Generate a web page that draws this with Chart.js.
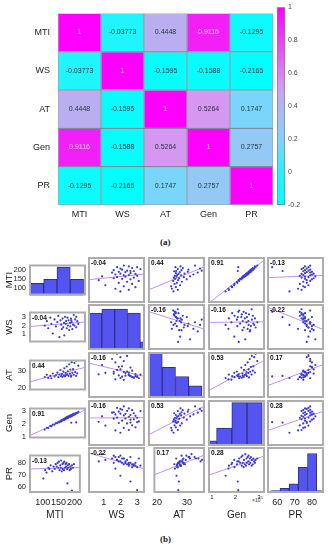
<!DOCTYPE html>
<html>
<head>
<meta charset="utf-8">
<script src="https://cdn.jsdelivr.net/npm/chart.js@4.4.0/dist/chart.umd.min.js"></script>
<style>
  body { margin: 0; background: #fff; width: 332px; height: 550px; position: relative; overflow: hidden; }
  canvas { position: absolute; }
  .cap { position: absolute; font-family: "Liberation Serif", "Times New Roman", serif; font-size: 9px; font-weight: bold; color: #222; }
  .exp { position: absolute; font-family: "Liberation Sans", Arial, sans-serif; font-size: 5px; color: #333; }
</style>
</head>
<body>
<div class="cap" style="left:160px;top:237px">(a)</div>
<div class="cap" style="left:160px;top:534px">(b)</div>
<div class="exp" style="left:252px;top:495px">×10<sup style="font-size:4px">5</sup></div>
<script>
// ================= data =================
const varNames = ['MTI', 'WS', 'AT', 'Gen', 'PR'];

// correlation matrix rows
const corrMTI = [1, -0.03773, 0.4448, 0.9116, -0.1295];
const corrWS  = [-0.03773, 1, -0.1595, -0.1588, -0.2165];
const corrAT  = [0.4448, -0.1595, 1, 0.5264, 0.1747];
const corrGen = [0.9116, -0.1588, 0.5264, 1, 0.2757];
const corrPR  = [-0.1295, -0.2165, 0.1747, 0.2757, 1];
const cbTicks = [-0.2, 0, 0.2, 0.4, 0.6, 0.8, 1];

const mti = [102, 108, 112, 118, 121, 125, 130, 134, 138, 141, 144, 147, 149, 151, 153, 155, 157, 158, 160, 162,
             163, 165, 167, 168, 170, 172, 174, 175, 177, 179, 181, 183, 185, 187, 189, 192, 195, 198, 178, 192];
const ws  = [2.0, 2.5, 1.7, 2.9, 2.2, 1.1, 2.7, 1.9, 2.4, 3.1, 0.7, 2.6, 2.1, 1.6, 2.8, 1.8, 2.3, 0.9, 3.0, 2.2,
             2.5, 1.7, 2.9, 2.0, 2.6, 1.5, 2.3, 1.9, 2.8, 2.4, 1.6, 2.1, 3.2, 2.0, 2.7, 1.8, 2.5, 2.2, 2.6, 3.0];
const at  = [26.5, 27.8, 26.0, 27.2, 25.8, 28.5, 26.8, 27.5, 29.0, 26.4, 27.9, 30.5, 27.0, 28.2, 26.6, 29.6, 27.4, 31.5, 26.9, 28.8,
             27.6, 32.5, 28.0, 29.8, 27.2, 33.8, 28.4, 30.8, 26.7, 35.0, 28.9, 31.0, 27.8, 34.5, 29.3, 35.8, 28.6, 33.0, 27.3, 27.1];
const gen = [1.58, 1.72, 1.70, 1.86, 1.83, 1.95, 1.96, 2.08, 2.06, 2.16, 2.14, 2.25, 2.20, 2.30, 2.27, 2.36, 2.31, 2.42, 2.35, 2.47,
             2.40, 2.52, 2.45, 2.56, 2.49, 2.61, 2.55, 2.66, 2.58, 2.70, 2.63, 2.76, 2.69, 2.80, 2.74, 2.86, 2.83, 2.93, 2.10, 2.12];
const pr  = [67, 74, 72, 76, 75, 78, 73, 77, 75, 79, 77, 80, 76, 81, 74, 78, 76, 82, 73, 79,
             75, 80, 74, 81, 76, 79, 77, 80, 75, 78, 76, 79, 74, 77, 75, 78, 76, 79, 63, 57];

// histogram bins (centres) and counts
const mtiBins = [80, 118, 156, 194];              const mtiCounts = [6, 8, 14, 8];
const wsBins  = [0.5, 1.27, 2.04, 2.81, 3.58];    const wsCounts  = [9, 10, 10, 9, 2];
const atBins  = [21.1, 25.1, 29.1, 33.1];         const atCounts  = [15, 10, 7, 4];
const genBins = [0.87, 1.52, 2.17, 2.82];         const genCounts = [2, 7, 17, 17];
const prBins  = [58.9, 64.2, 69.5, 74.8, 80.1, 85.4]; const prCounts = [1, 2, 4, 11, 17, 1];

// axis limits (x of each column, y of each row) and ticks
const mtiX = [57, 220];    const mtiY = [59, 230];    const mtiTicks = [100, 150, 200];
const wsX  = [0.06, 3.47]; const wsY  = [0.08, 3.6]; const wsTicks  = [1, 2, 3];
const atX  = [18.8, 36];   const atY  = [18.8, 36.5]; const atTicks  = [20, 30];
const genX = [0.83, 3.26]; const genY = [0.9, 3.26];  const genTicks = [1, 2, 3];
const prX  = [54, 87];     const prY  = [55, 87];     const prTicks  = [60, 70, 80];
const histTop = [15.3, 11.25, 15, 18, 19.8];

// ================= styles =================
const family = '"Liberation Sans", Arial, sans-serif';
Chart.defaults.font.family = family;
const colorStops = [
  [-0.2, [0, 255, 255]], [0, [40, 242, 252]], [0.17, [120, 215, 250]], [0.28, [150, 200, 245]],
  [0.44, [185, 175, 240]], [0.53, [215, 150, 240]], [0.9, [240, 35, 245]], [1, [255, 0, 255]]
];
function colorFor(v) {
  if (v <= colorStops[0][0]) return 'rgb(' + colorStops[0][1].join(',') + ')';
  for (let k = 1; k < colorStops.length; k++) {
    const [v1, c1] = colorStops[k], [v0, c0] = colorStops[k - 1];
    if (v <= v1) {
      const t = (v - v0) / (v1 - v0);
      return 'rgb(' + c0.map((c, n) => Math.round(c + (c1[n] - c) * t)).join(',') + ')';
    }
  }
  return 'rgb(255,0,255)';
}

function addCanvas(x, y, w, h) {
  const c = document.createElement('canvas');
  c.width = w; c.height = h;
  c.style.left = x + 'px'; c.style.top = y + 'px';
  c.style.width = w + 'px'; c.style.height = h + 'px';
  document.body.appendChild(c);
  return c;
}

const baseOpts = () => ({
  responsive: false, animation: false, devicePixelRatio: 1,
  events: [],
  layout: { padding: 0, autoPadding: false },
  plugins: { legend: { display: false }, tooltip: { enabled: false } }
});

// =====================================================
// (a) correlation heatmap
const corr = [corrMTI, corrWS, corrAT, corrGen, corrPR];

const cellText = {
  id: 'cellText',
  afterDatasetsDraw(chart) {
    const ctx = chart.ctx;
    ctx.save();
    ctx.font = '7px ' + family;
    ctx.textAlign = 'center';
    ctx.textBaseline = 'middle';
    chart.data.datasets.forEach((ds, d) => {
      chart.getDatasetMeta(d).data.forEach((bar, c) => {
        const v = corr[ds.row][c];
        ctx.fillStyle = v > 0.85 ? '#f7c4f7' : '#1f3538';
        ctx.fillText(String(v), bar.x, (bar.y + bar.base) / 2);
      });
    });
    ctx.restore();
  }
};

const heatSets = [4, 3, 2, 1, 0].map(r => ({
  row: r,
  data: corr[r].map(() => 1),
  backgroundColor: corr[r].map(colorFor),
  borderColor: 'rgba(40,60,90,0.45)',
  borderWidth: 1,
  borderSkipped: false,
  barPercentage: 1,
  categoryPercentage: 1
}));

const heatOpts = baseOpts();
heatOpts.layout.padding = { top: 6, right: 1, left: 0, bottom: 0 };
heatOpts.scales = {
  x: {
    stacked: true,
    grid: { display: false, drawTicks: false }, border: { display: false },
    ticks: { font: { size: 9 }, color: '#222', padding: 4 },
    afterFit: s => { s.height = 17; }
  },
  y: {
    stacked: true, min: 0, max: 5,
    grid: { display: false, drawTicks: false }, border: { display: false },
    afterBuildTicks: s => { s.ticks = varNames.map((n, i) => ({ value: 4.5 - i })); },
    ticks: { font: { size: 9 }, color: '#222', padding: 8,
             callback: v => varNames[Math.round(4.5 - v)] },
    afterFit: s => { s.width = 58; }
  }
};
new Chart(addCanvas(0, 0, 274, 222), {
  type: 'bar',
  data: { labels: varNames, datasets: heatSets },
  options: heatOpts,
  plugins: [cellText]
});

// colorbar
function barGradient(context) {
  const chart = context.chart;
  const a = chart.chartArea;
  if (!a) return colorFor(0.4);
  const ys = chart.scales.y;
  const g = chart.ctx.createLinearGradient(0, a.bottom, 0, a.top);
  colorStops.forEach(([v, c]) => {
    const p = (ys.getPixelForValue(v) - a.bottom) / (a.top - a.bottom);
    g.addColorStop(Math.min(1, Math.max(0, p)), 'rgb(' + c.join(',') + ')');
  });
  return g;
}
const cbOpts = baseOpts();
cbOpts.layout.padding = { left: 4, top: 6, bottom: 10, right: 0 };
cbOpts.scales = {
  x: { display: false },
  y: {
    position: 'right', min: cbTicks[0], max: cbTicks[cbTicks.length - 1],
    grid: { display: false, drawTicks: false }, border: { display: false },
    afterBuildTicks: s => { s.ticks = cbTicks.map(v => ({ value: v })); },
    ticks: { font: { size: 7 }, color: '#444', padding: 3, callback: v => String(+v.toFixed(1)) },
    afterFit: s => { s.width = 47; }
  }
};
new Chart(addCanvas(273, 0, 59, 215), {
  type: 'bar',
  data: { labels: [''], datasets: [{
    data: [[cbTicks[0], cbTicks[cbTicks.length - 1]]],
    backgroundColor: barGradient,
    borderColor: '#7a7a9a', borderWidth: 1, borderSkipped: false,
    barPercentage: 1, categoryPercentage: 1
  }] },
  options: cbOpts
});

// =====================================================
// (b) scatter matrix
const allVars = [mti, ws, at, gen, pr];
const xRanges = [mtiX, wsX, atX, genX, prX];
const yRanges = [mtiY, wsY, atY, genY, prY];
const ticksBy = [mtiTicks, wsTicks, atTicks, genTicks, prTicks];
const hists = [[mtiBins, mtiCounts], [wsBins, wsCounts], [atBins, atCounts], [genBins, genCounts], [prBins, prCounts]];

const colLeft = [29, 88, 148, 208, 267];
const rowTop = [257, 304, 352, 400, 447];
const PW = 57, PH = 46, AXW = 29, AXH = 28;

const frame = {
  id: 'frame',
  afterDraw(chart, args, opts) {
    const a = chart.chartArea, ctx = chart.ctx;
    ctx.save();
    if (opts.label) {
      ctx.font = 'bold 6.5px ' + family;
      ctx.fillStyle = '#111';
      ctx.textBaseline = 'top';
      ctx.fillText(opts.label, a.left + 3, a.top + 3);
    }
    ctx.strokeStyle = '#adadad';
    ctx.lineWidth = 2;
    ctx.strokeRect(a.left + 1, a.top + 1, a.right - a.left - 2, a.bottom - a.top - 2);
    ctx.restore();
  }
};

function xScale(j, show) {
  return {
    type: 'linear', min: xRanges[j][0], max: xRanges[j][1], display: show, offset: false,
    grid: { display: false, drawTicks: false }, border: { display: false },
    afterBuildTicks: s => { s.ticks = ticksBy[j].map(v => ({ value: v })); },
    ticks: { font: { size: j === 3 ? 6 : 9 }, color: '#222', padding: j === 3 ? 1 : 4, maxRotation: 0 },
    title: { display: true, text: varNames[j], font: { size: 10 }, color: '#222', padding: { top: 0, bottom: 0 } },
    afterFit: s => { s.height = show ? AXH : 0; }
  };
}
function yScale(i, show) {
  return {
    type: 'linear', axis: 'y', position: 'left', min: yRanges[i][0], max: yRanges[i][1], display: show,
    grid: { display: false, drawTicks: false }, border: { display: false },
    afterBuildTicks: s => { s.ticks = ticksBy[i].map(v => ({ value: v })); },
    ticks: { font: { size: 7.5 }, color: '#222', padding: 3 },
    title: { display: true, text: varNames[i], font: { size: 9.5 }, color: '#222', padding: { top: 4, bottom: 0 } },
    afterFit: s => { s.width = show ? AXW : 0; }
  };
}

function linFit(xs, ys) {
  const n = xs.length;
  const mx = xs.reduce((a, b) => a + b, 0) / n;
  const my = ys.reduce((a, b) => a + b, 0) / n;
  let sxy = 0, sxx = 0;
  xs.forEach((x, k) => { sxy += (x - mx) * (ys[k] - my); sxx += (x - mx) * (x - mx); });
  const b = sxy / sxx;
  return { a: my - b * mx, b };
}

for (let i = 0; i < 5; i++) {
  for (let j = 0; j < 5; j++) {
    const left = j === 0, bottom = i === 4;
    const cx = left ? 0 : colLeft[j];
    const cw = left ? colLeft[0] + PW : PW;
    const ch = bottom ? PH + AXH : PH;
    const canvas = addCanvas(cx, rowTop[i], cw, ch);
    const opts = baseOpts();

    if (i === j) {
      const [bins, counts] = hists[i];
      opts.scales = {
        x: xScale(j, bottom),
        y: { min: 0, max: histTop[i], display: false },
        yv: yScale(i, left)
      };
      opts.plugins.frame = { label: '' };
      new Chart(canvas, {
        type: 'bar',
        data: { datasets: [{
          data: bins.map((b, k) => ({ x: b, y: counts[k] })),
          backgroundColor: '#5454f0', borderColor: '#30308a', borderWidth: 1,
          borderSkipped: false, barPercentage: 1, categoryPercentage: 1
        }] },
        options: opts,
        plugins: [frame]
      });
    } else {
      const xs = allVars[j], ys = allVars[i];
      const fit = linFit(xs, ys);
      const [x0, x1] = xRanges[j];
      opts.scales = { x: xScale(j, bottom), y: yScale(i, left) };
      opts.plugins.frame = { label: corr[i][j].toFixed(2) };
      new Chart(canvas, {
        type: 'scatter',
        data: { datasets: [
          { data: xs.map((x, k) => ({ x, y: ys[k] })),
            pointRadius: 1.1, pointBackgroundColor: '#3a3ad4', pointBorderWidth: 0 },
          { data: [{ x: x0, y: fit.a + fit.b * x0 }, { x: x1, y: fit.a + fit.b * x1 }],
            showLine: true, borderColor: '#c590f0', borderWidth: 1, pointRadius: 0 }
        ] },
        options: opts,
        plugins: [frame]
      });
    }
  }
}
</script>
</body>
</html>
